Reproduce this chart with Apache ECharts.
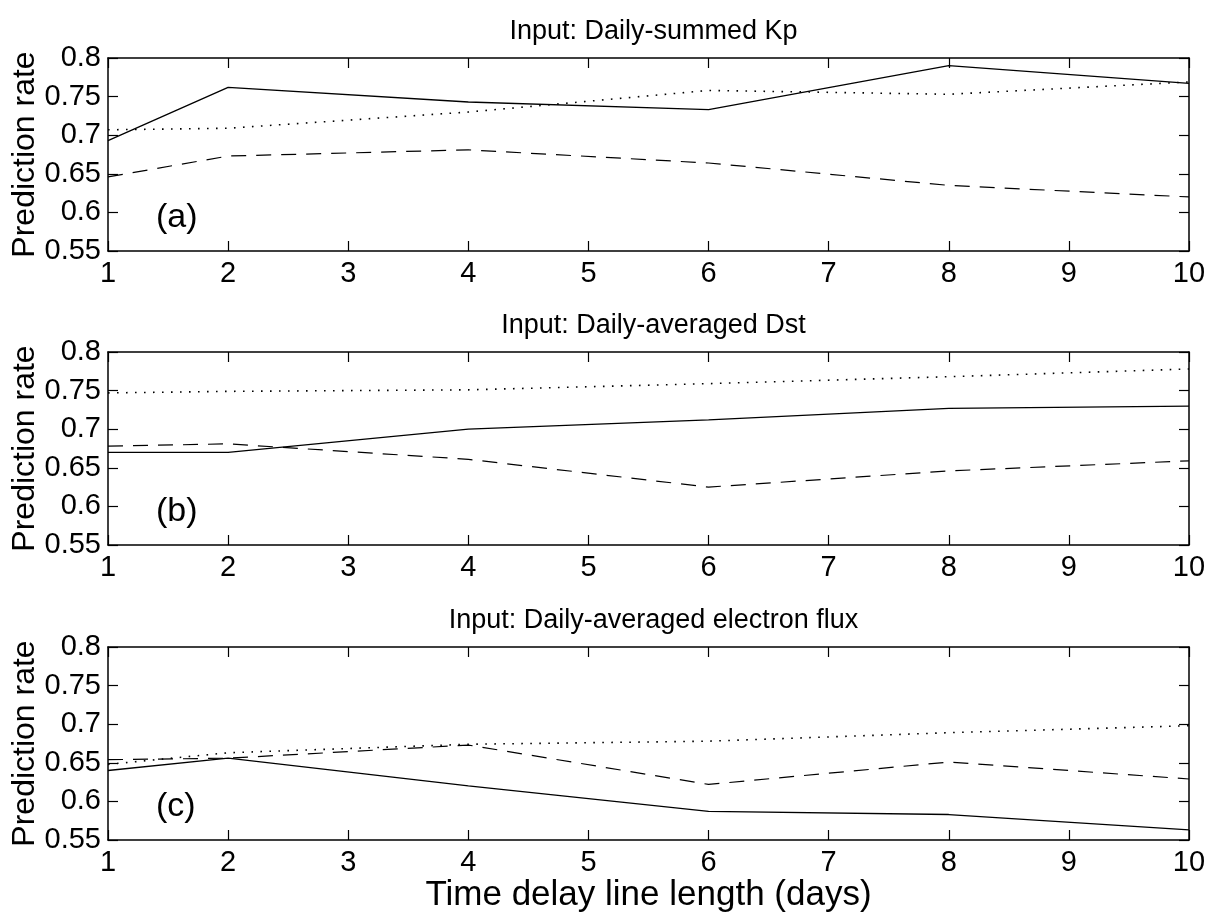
<!DOCTYPE html>
<html>
<head>
<meta charset="utf-8">
<script src="https://cdn.jsdelivr.net/npm/echarts@6/dist/echarts.min.js"></script>
<style>
html,body{margin:0;padding:0;background:#fff;}
#chart{width:1218px;height:916px;}
</style>
</head>
<body>
<div id="chart"></div>
<script>
// ---- data ----
const days = [1, 2, 4, 6, 8, 10];

const kpSolid  = [0.693, 0.762, 0.743, 0.733, 0.790, 0.767];
const kpDashed = [0.646, 0.673, 0.681, 0.664, 0.635, 0.620];
const kpDotted = [0.707, 0.709, 0.730, 0.758, 0.753, 0.769];

const dstSolid  = [0.670, 0.670, 0.700, 0.712, 0.727, 0.730];
const dstDashed = [0.678, 0.681, 0.661, 0.625, 0.646, 0.659];
const dstDotted = [0.747, 0.749, 0.751, 0.759, 0.768, 0.778];

const fluxSolid  = [0.640, 0.656, 0.620, 0.587, 0.583, 0.563];
const fluxDashed = [0.654, 0.656, 0.673, 0.622, 0.651, 0.629];
const fluxDotted = [0.648, 0.663, 0.674, 0.678, 0.689, 0.698];

const panelTitles = ['Input: Daily-summed Kp', 'Input: Daily-averaged Dst', 'Input: Daily-averaged electron flux'];
const panelLabels = ['(a)', '(b)', '(c)'];
const yAxisName = 'Prediction rate';
const xAxisName = 'Time delay line length (days)';
const yMin = 0.55, yMax = 0.8, yStep = 0.05;
const xMin = 1, xMax = 10, xStep = 1;

const panels = [
  [kpSolid, kpDashed, kpDotted],
  [dstSolid, dstDashed, dstDotted],
  [fluxSolid, fluxDashed, fluxDotted]
];

// ---- layout ----
const FONT = 'Liberation Sans, Arial, Helvetica, sans-serif';
const gridLeft = 108, gridWidth = 1081, gridHeight = 193;
const gridTops = [58, 352, 647];

const grids = [], xAxes = [], yAxes = [], series = [], titles = [], graphics = [];
const black = '#000';
const axisLine = {show: true, lineStyle: {color: black, width: 1.5}};
const tick = {show: true, inside: true, length: 10, lineStyle: {color: black, width: 1.2}};
const fmtY = v => String(parseFloat(v.toFixed(2)));

panels.forEach((p, i) => {
  grids.push({left: gridLeft, top: gridTops[i], width: gridWidth, height: gridHeight,
              containLabel: false, outerBoundsMode: 'none'});
  xAxes.push({
    type: 'value', gridIndex: i, position: 'bottom', min: xMin, max: xMax, interval: xStep,
    axisLine, axisTick: tick, splitLine: {show: false},
    axisLabel: {color: black, fontSize: 29, fontFamily: FONT, margin: 8},
    name: i === 2 ? xAxisName : '', nameLocation: 'middle', nameGap: 38, nameMoveOverlap: false,
    nameTextStyle: {color: black, fontSize: 35, fontFamily: FONT, verticalAlign: 'top'}
  });
  xAxes.push({
    type: 'value', gridIndex: i, position: 'top', min: xMin, max: xMax, interval: xStep,
    axisLine, axisTick: tick, splitLine: {show: false}, axisLabel: {show: false}
  });
  yAxes.push({
    type: 'value', gridIndex: i, position: 'left', min: yMin, max: yMax, interval: yStep,
    axisLine, axisTick: tick, splitLine: {show: false},
    axisLabel: {color: black, fontSize: 29, fontFamily: FONT, margin: 7, formatter: fmtY},
    name: yAxisName, nameLocation: 'middle', nameGap: 67, nameMoveOverlap: false,
    nameTextStyle: {color: black, fontSize: 32, fontFamily: FONT}
  });
  yAxes.push({
    type: 'value', gridIndex: i, position: 'right', min: yMin, max: yMax, interval: yStep,
    axisLine, axisTick: tick, splitLine: {show: false}, axisLabel: {show: false}
  });

  const styles = [
    {type: 'solid', width: 1.3},
    {type: [15, 10], width: 1.2},
    {type: [1.6, 7.4], width: 1.6}
  ];
  p.forEach((vals, k) => {
    series.push({
      type: 'line', xAxisIndex: 2 * i, yAxisIndex: 2 * i,
      data: days.map((d, j) => [d, vals[j]]),
      symbol: 'none', silent: true, animation: false,
      lineStyle: Object.assign({color: black}, styles[k])
    });
  });

  titles.push({
    text: panelTitles[i], left: gridLeft + gridWidth / 2, top: gridTops[i] - 45, textAlign: 'center',
    textStyle: {color: black, fontSize: 27, fontWeight: 'normal', fontFamily: FONT}
  });
  graphics.push({
    type: 'text', left: 156, top: gridTops[i] + 143,
    style: {text: panelLabels[i], fill: black, fontSize: 34, fontFamily: FONT}
  });
});

const chart = echarts.init(document.getElementById('chart'), null, {renderer: 'canvas'});
chart.setOption({
  backgroundColor: '#fff',
  animation: false,
  title: titles,
  grid: grids,
  xAxis: xAxes,
  yAxis: yAxes,
  series: series,
  graphic: graphics
});
</script>
</body>
</html>
